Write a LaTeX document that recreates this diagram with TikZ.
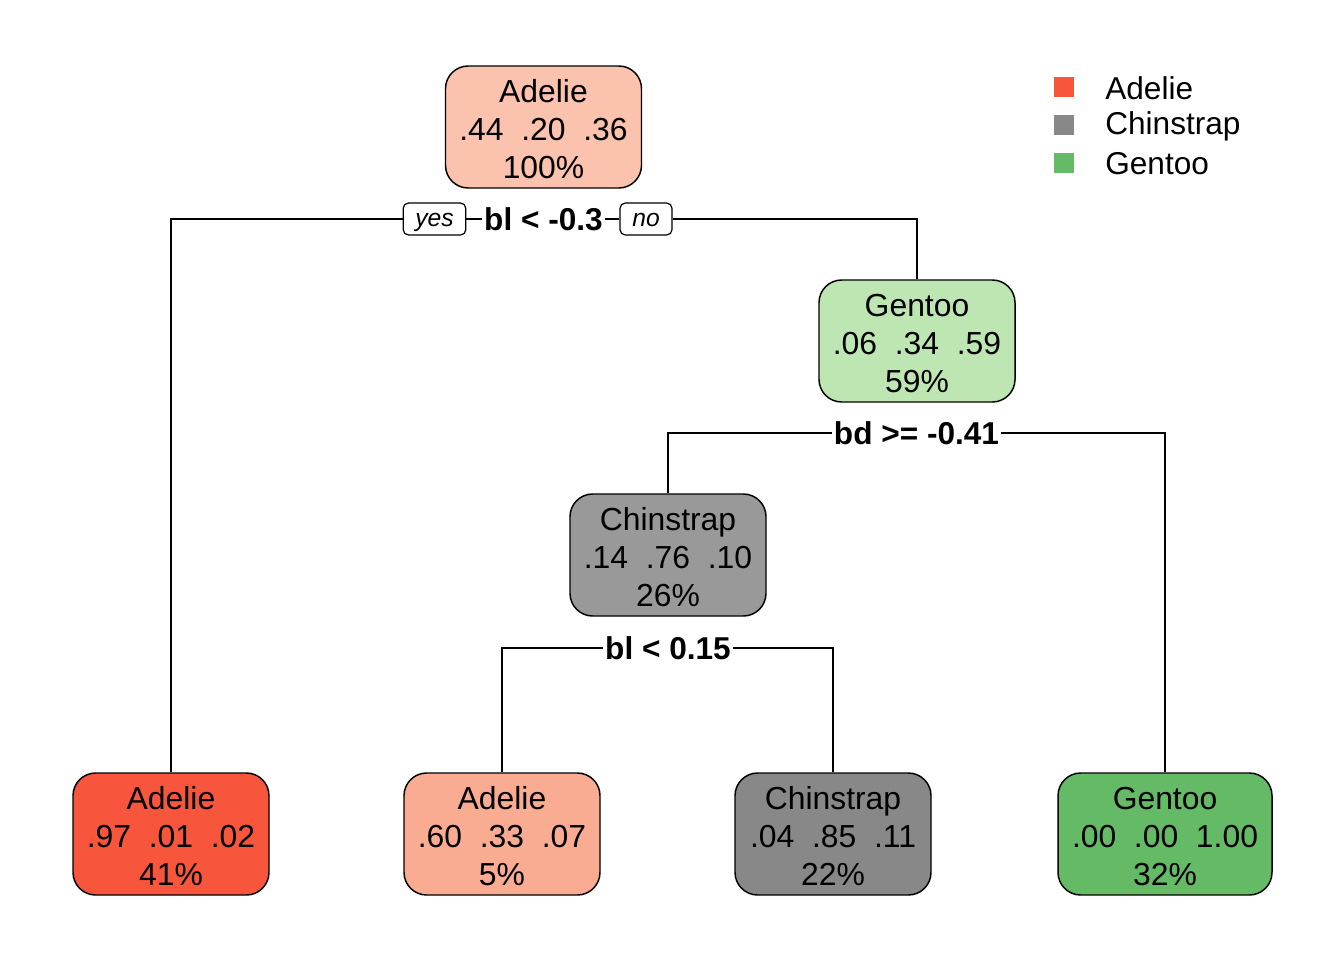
\documentclass[tikz,border=0pt]{standalone}
\usepackage{fontspec}
\setmainfont{Liberation Sans}
\definecolor{adeA}{RGB}{251,195,173}
\definecolor{adeB}{RGB}{247,85,60}
\definecolor{adeC}{RGB}{249,172,145}
\definecolor{genA}{RGB}{190,230,178}
\definecolor{genB}{RGB}{101,187,101}
\definecolor{chiA}{RGB}{153,153,153}
\definecolor{chiB}{RGB}{136,136,136}
\newcommand{\tstrut}{\rule{0pt}{20.5pt}}
\begin{document}
\begin{tikzpicture}[x=0.75pt,y=-0.75pt,
  tbox/.style={draw, line width=1.1pt, rounded corners=17pt, inner sep=0pt,
    minimum width=147pt, minimum height=91.5pt, align=center,
    font=\fontsize{23.9}{28.6}\selectfont},
  split/.style={inner sep=1.5pt, font=\bfseries\fontsize{23.7}{28}\selectfont},
  yn/.style={draw, line width=0.9pt, rounded corners=4pt, inner sep=0pt,
    minimum height=24pt, text height=13pt, text depth=1.5pt,
    font=\itshape\fontsize{18.5}{22}\selectfont},
  conn/.style={line width=0.9pt},
  legsq/.style={minimum size=15pt, inner sep=0pt},
  legtx/.style={anchor=west, inner sep=0pt, font=\fontsize{23.7}{28}\selectfont}]
\useasboundingbox (0,0) rectangle (1344,960);
\fill[white] (0,0) rectangle (1344,960);

% nodes
\node[tbox, fill=adeA] (root) at (543.5,127) {\tstrut Adelie\\.44\ \ .20\ \ .36\\100\%};
\node[tbox, fill=genA] (gen) at (917,341) {\tstrut Gentoo\\.06\ \ .34\ \ .59\\59\%};
\node[tbox, fill=chiA] (chi) at (668,555) {\tstrut Chinstrap\\.14\ \ .76\ \ .10\\26\%};
\node[tbox, fill=adeB] (l1) at (171,834) {\tstrut Adelie\\.97\ \ .01\ \ .02\\41\%};
\node[tbox, fill=adeC] (l2) at (502,834) {\tstrut Adelie\\.60\ \ .33\ \ .07\\5\%};
\node[tbox, fill=chiB] (l3) at (833,834) {\tstrut Chinstrap\\.04\ \ .85\ \ .11\\22\%};
\node[tbox, fill=genB, minimum width=160.5pt] (l4) at (1165,834) {\tstrut Gentoo\\.00\ \ .00\ \ 1.00\\32\%};

% split labels
\node[split] (s1) at (543.5,219) {bl < -0.3};
\node[yn, minimum width=47pt] (yes) at (434.5,219) {yes};
\node[yn, minimum width=39pt] (no) at (646,219) {no};
\node[split] (s2) at (916.5,433) {bd >= -0.41};
\node[split] (s3) at (668,648) {bl < 0.15};

% connectors
\draw[conn] (yes.west) -| (l1.north);
\draw[conn] (yes.east) -- (s1.west);
\draw[conn] (s1.east) -- (no.west);
\draw[conn] (no.east) -| (gen.north);
\draw[conn] (s2.west) -| (chi.north);
\draw[conn] (s2.east) -| (l4.north);
\draw[conn] (s3.west) -| (l2.north);
\draw[conn] (s3.east) -| (l3.north);

% legend
\node[legsq, fill=adeB] (k1) at (1064,87) {};
\node[legsq, fill=chiB] (k2) at (1064,125) {};
\node[legsq, fill=genB] (k3) at (1064,163) {};
\node[legtx] (t1) at (1105,88) {Adelie};
\node[legtx] (t2) at (1105,126) {Chinstrap};
\node[legtx] (t3) at (1105,164) {Gentoo};
\end{tikzpicture}
\end{document}
